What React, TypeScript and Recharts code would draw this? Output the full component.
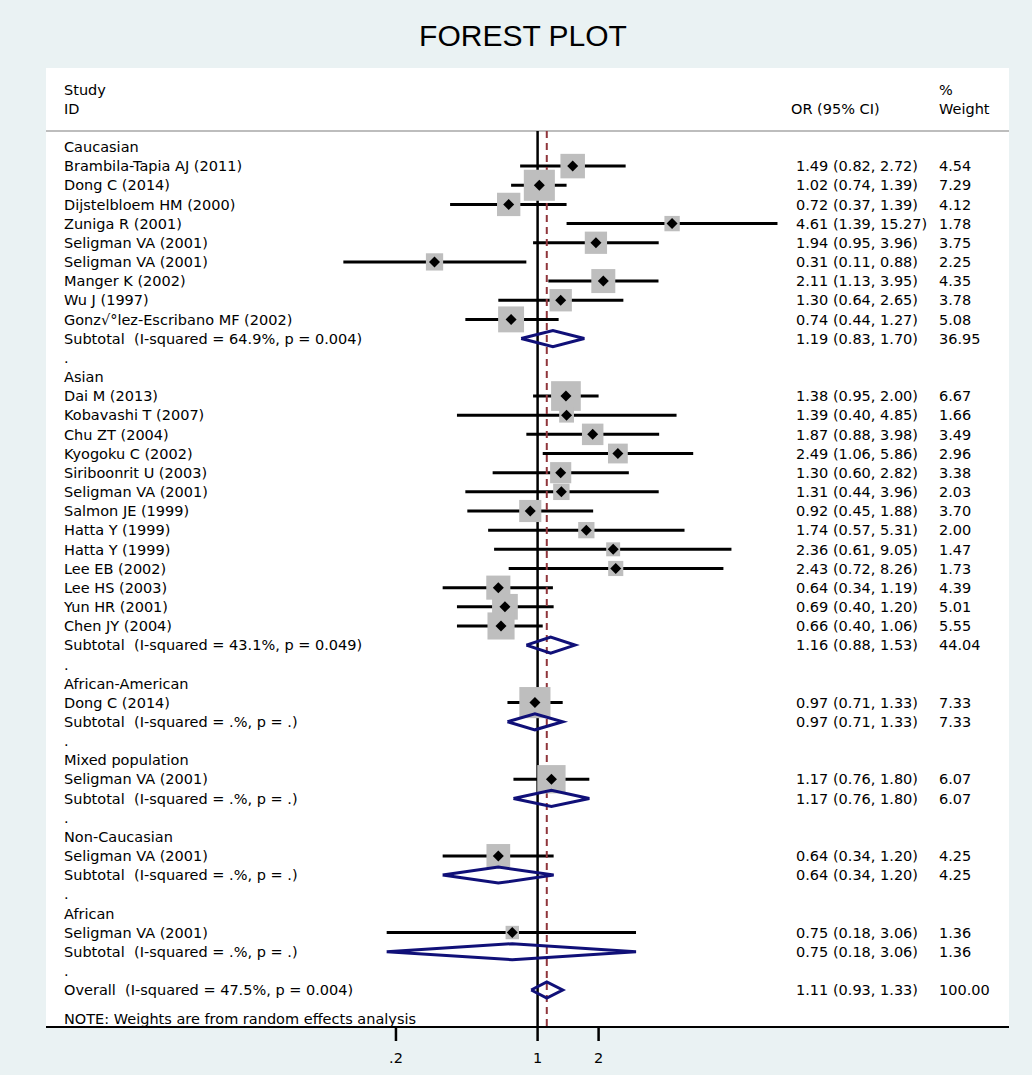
import React from "react";
import {
  ScatterChart,
  Scatter,
  XAxis,
  YAxis,
  ErrorBar,
  ReferenceLine,
  CartesianGrid,
} from "recharts";

// ---- data ----
const groupNames = [
  "Caucasian",
  "Asian",
  "African-American",
  "Mixed population",
  "Non-Caucasian",
  "African",
];

const studyNames = [
  "Brambila-Tapia AJ (2011)",
  "Dong C (2014)",
  "Dijstelbloem HM (2000)",
  "Zuniga R (2001)",
  "Seligman VA (2001)",
  "Seligman VA (2001)",
  "Manger K (2002)",
  "Wu J (1997)",
  "Gonz\u221A\u00B0lez-Escribano MF (2002)",
  "Dai M (2013)",
  "Kobavashi T (2007)",
  "Chu ZT (2004)",
  "Kyogoku C (2002)",
  "Siriboonrit U (2003)",
  "Seligman VA (2001)",
  "Salmon JE (1999)",
  "Hatta Y (1999)",
  "Hatta Y (1999)",
  "Lee EB (2002)",
  "Lee HS (2003)",
  "Yun HR (2001)",
  "Chen JY (2004)",
  "Dong C (2014)",
  "Seligman VA (2001)",
  "Seligman VA (2001)",
  "Seligman VA (2001)",
];
const studyGroup = [
  0, 0, 0, 0, 0, 0, 0, 0, 0,
  1, 1, 1, 1, 1, 1, 1, 1, 1, 1, 1, 1, 1,
  2, 3, 4, 5,
];
const studyOR = [
  1.49, 1.02, 0.72, 4.61, 1.94, 0.31, 2.11, 1.3, 0.74,
  1.38, 1.39, 1.87, 2.49, 1.3, 1.31, 0.92, 1.74, 2.36, 2.43, 0.64, 0.69, 0.66,
  0.97, 1.17, 0.64, 0.75,
];
const studyLower = [
  0.82, 0.74, 0.37, 1.39, 0.95, 0.11, 1.13, 0.64, 0.44,
  0.95, 0.4, 0.88, 1.06, 0.6, 0.44, 0.45, 0.57, 0.61, 0.72, 0.34, 0.4, 0.4,
  0.71, 0.76, 0.34, 0.18,
];
const studyUpper = [
  2.72, 1.39, 1.39, 15.27, 3.96, 0.88, 3.95, 2.65, 1.27,
  2.0, 4.85, 3.98, 5.86, 2.82, 3.96, 1.88, 5.31, 9.05, 8.26, 1.19, 1.2, 1.06,
  1.33, 1.8, 1.2, 3.06,
];
const studyWeight = [
  4.54, 7.29, 4.12, 1.78, 3.75, 2.25, 4.35, 3.78, 5.08,
  6.67, 1.66, 3.49, 2.96, 3.38, 2.03, 3.7, 2.0, 1.47, 1.73, 4.39, 5.01, 5.55,
  7.33, 6.07, 4.25, 1.36,
];

const subtotalHet = [
  "I-squared = 64.9%, p = 0.004",
  "I-squared = 43.1%, p = 0.049",
  "I-squared = .%, p = .",
  "I-squared = .%, p = .",
  "I-squared = .%, p = .",
  "I-squared = .%, p = .",
];
const subtotalOR = [1.19, 1.16, 0.97, 1.17, 0.64, 0.75];
const subtotalLower = [0.83, 0.88, 0.71, 0.76, 0.34, 0.18];
const subtotalUpper = [1.7, 1.53, 1.33, 1.8, 1.2, 3.06];
const subtotalWeight = [36.95, 44.04, 7.33, 6.07, 4.25, 1.36];

const overallHet = "I-squared = 47.5%, p = 0.004";
const overallOR = 1.11;
const overallLower = 0.93;
const overallUpper = 1.33;
const overallWeight = 100;

const xTicks = [0.2, 1, 2];

// ---- layout / style ----
const FONT = "'DejaVu Sans', sans-serif";
const FS = 14.5;
const BG = "#EAF2F3";
const NAVY = "#101078";
const MAROON = "#90353B";
const BOX = "#BEBEBE";
const X_MIN = 0.00375;
const X_MAX = 212;
const Y_MIN = -4.12;
const Y_MAX = 45.93;
const HEADER_LINE = -0.83;
const DIAMOND_H = 0.42;
const BOX_K = 11.5;
const COL_LABEL = 64;
const COL_OR = 796;
const COL_W = 939;

type Row = {
  row: number;
  label: string;
  kind: "group" | "study" | "sub" | "dot" | "overall";
  or?: number;
  lo?: number;
  hi?: number;
  w?: number;
};

const rows: Row[] = [];
let r = 0;
groupNames.forEach((g, gi) => {
  rows.push({ row: r++, label: g, kind: "group" });
  studyNames.forEach((name, i) => {
    if (studyGroup[i] !== gi) return;
    rows.push({
      row: r++,
      label: name,
      kind: "study",
      or: studyOR[i],
      lo: studyLower[i],
      hi: studyUpper[i],
      w: studyWeight[i],
    });
  });
  rows.push({
    row: r++,
    label: `Subtotal  (${subtotalHet[gi]})`,
    kind: "sub",
    or: subtotalOR[gi],
    lo: subtotalLower[gi],
    hi: subtotalUpper[gi],
    w: subtotalWeight[gi],
  });
  rows.push({ row: r++, label: ".", kind: "dot" });
});
rows.push({
  row: r++,
  label: `Overall  (${overallHet})`,
  kind: "overall",
  or: overallOR,
  lo: overallLower,
  hi: overallUpper,
  w: overallWeight,
});
const NOTE_ROW = r + 0.5;

const rowMap = new Map<number, Row>(rows.map((d) => [d.row, d]));

const studyPoints = rows
  .filter((d) => d.kind === "study")
  .map((d) => ({
    x: d.or,
    y: d.row,
    w: d.w,
    err: [d.or! - d.lo!, d.hi! - d.or!],
  }));

const diamonds = rows
  .filter((d) => d.kind === "sub" || d.kind === "overall")
  .map((d) => [
    { x: d.lo, y: d.row },
    { x: d.or, y: d.row - DIAMOND_H },
    { x: d.hi, y: d.row },
    { x: d.or, y: d.row + DIAMOND_H },
    { x: d.lo, y: d.row },
  ]);

const yTicks = [-3, -2, ...rows.map((d) => d.row), NOTE_ROW];

const fmt = (v: number) => v.toFixed(2);

function Label({ x, y, children }: { x: number; y: number; children: React.ReactNode }) {
  return (
    <text
      x={x}
      y={y}
      dy="0.36em"
      fontFamily={FONT}
      fontSize={FS}
      fill="#000"
      style={{ whiteSpace: "pre" }}
    >
      {children}
    </text>
  );
}

function RowTick(props: any) {
  const { y, payload } = props;
  const v = payload.value;
  if (v === -3) {
    return (
      <g>
        <Label x={COL_LABEL} y={y}>Study</Label>
        <Label x={COL_W} y={y}>%</Label>
      </g>
    );
  }
  if (v === -2) {
    return (
      <g>
        <Label x={COL_LABEL} y={y}>ID</Label>
        <Label x={COL_OR - 5} y={y}>OR (95% CI)</Label>
        <Label x={COL_W} y={y}>Weight</Label>
      </g>
    );
  }
  if (v === NOTE_ROW) {
    return (
      <Label x={COL_LABEL} y={y}>NOTE: Weights are from random effects analysis</Label>
    );
  }
  const d = rowMap.get(v);
  if (!d) return <g />;
  return (
    <g>
      <Label x={COL_LABEL} y={y}>{d.label}</Label>
      {d.or !== undefined && (
        <>
          <Label x={COL_OR} y={y}>{`${fmt(d.or)} (${fmt(d.lo!)}, ${fmt(d.hi!)})`}</Label>
          <Label x={COL_W} y={y}>{fmt(d.w!)}</Label>
        </>
      )}
    </g>
  );
}

function XTick(props: any) {
  const { x, y, payload } = props;
  const v = payload.value;
  return (
    <text x={x} y={y + 20} textAnchor="middle" fontFamily={FONT} fontSize={FS} fill="#000">
      {v < 1 ? String(v).replace(/^0/, "") : String(v)}
    </text>
  );
}

function WeightBox(props: any) {
  const { cx, cy, payload } = props;
  const s = BOX_K * Math.sqrt(payload.w);
  return <rect x={cx - s / 2} y={cy - s / 2} width={s} height={s} fill={BOX} />;
}

function PointMarker(props: any) {
  const { cx, cy } = props;
  const h = 5.5;
  return (
    <polygon
      points={`${cx - h},${cy} ${cx},${cy - h} ${cx + h},${cy} ${cx},${cy + h}`}
      fill="#000"
    />
  );
}

export default function App() {
  return (
    <div style={{ position: "relative", width: 1032, height: 1075, background: BG }}>
      <style>{"body{margin:0}"}</style>
      <svg
        width={1032}
        height={60}
        style={{ position: "absolute", left: 0, top: 0, pointerEvents: "none" }}
      >
        <text
          x={523}
          y={46}
          textAnchor="middle"
          fontFamily="'Liberation Sans', Arial, sans-serif"
          fontSize={30}
          fill="#000"
        >
          FOREST PLOT
        </text>
      </svg>
      <ScatterChart
        width={1032}
        height={1075}
        margin={{ top: 68, right: 23, bottom: 0, left: 45 }}
      >
        <CartesianGrid fill="#fff" horizontal={false} vertical={false} />
        <XAxis
          type="number"
          dataKey="x"
          scale="log"
          domain={[X_MIN, X_MAX]}
          allowDataOverflow
          ticks={xTicks}
          interval={0}
          tick={(p: any) => <XTick {...p} />}
          tickSize={14}
          tickLine={{ stroke: "#000", strokeWidth: 2.5 }}
          axisLine={{ stroke: "#000", strokeWidth: 2 }}
          height={48}
        />
        <YAxis
          type="number"
          dataKey="y"
          domain={[Y_MIN, Y_MAX]}
          reversed
          allowDataOverflow
          ticks={yTicks}
          interval={0}
          tick={(p: any) => <RowTick {...p} />}
          tickLine={false}
          axisLine={false}
          width={1}
        />
        <Scatter data={studyPoints} shape={WeightBox} isAnimationActive={false} />
        <Scatter data={studyPoints} shape={PointMarker} isAnimationActive={false}>
          <ErrorBar
            dataKey="err"
            direction="x"
            width={0}
            stroke="#000"
            strokeWidth={3}
            isAnimationActive={false}
          />
        </Scatter>
        {diamonds.map((pts, i) => (
          <Scatter
            key={i}
            data={pts}
            line={{ stroke: NAVY, strokeWidth: 3 }}
            shape={() => <g />}
            isAnimationActive={false}
          />
        ))}
        <ReferenceLine y={HEADER_LINE} stroke="#BDBDBD" strokeWidth={2} />
        <ReferenceLine
          segment={[
            { x: 1, y: HEADER_LINE },
            { x: 1, y: Y_MAX },
          ]}
          stroke="#000"
          strokeWidth={2.5}
        />
        <ReferenceLine
          segment={[
            { x: overallOR, y: HEADER_LINE },
            { x: overallOR, y: Y_MAX },
          ]}
          stroke={MAROON}
          strokeWidth={2}
          strokeDasharray="7 5"
        />
      </ScatterChart>
    </div>
  );
}
